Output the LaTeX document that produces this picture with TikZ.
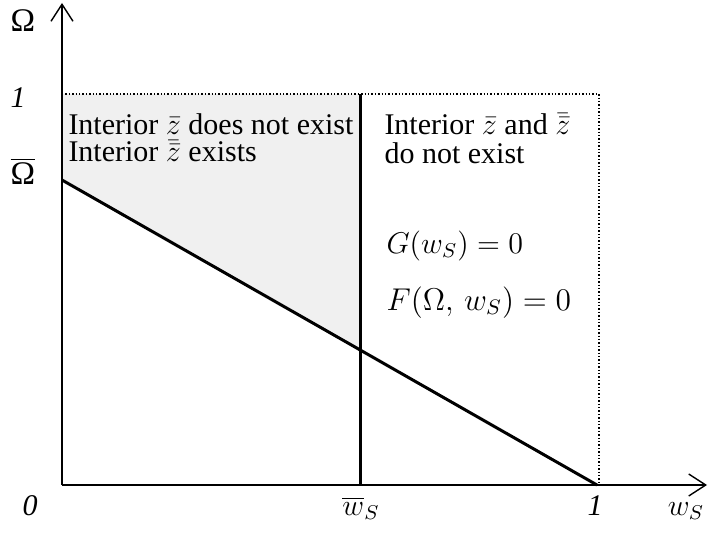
\documentclass[tikz,border=0pt]{standalone}
\usepackage{fontspec}
\setmainfont{Liberation Serif}
\usetikzlibrary{arrows.meta}
\begin{document}
\begin{tikzpicture}[x=1pt,y=-1pt,
  axis/.style={line width=1.4pt,-{Straight Barb[length=17pt,width=22pt,line width=1.4pt]}},
  heavy/.style={line width=3pt},
  frame/.style={line width=1.4pt,dotted},
  lbl/.style={inner sep=0pt,scale=2.5,font=\fontsize{12}{12.4}\selectfont},
  txt/.style={inner sep=0pt,anchor=base west,scale=2.5,font=\fontsize{12}{12.4}\selectfont}]
\useasboundingbox (0,0) rectangle (711,537);
\coordinate (O) at (62,485);
\coordinate (Ytip) at (62,3);
\coordinate (Xtip) at (707,485);
\coordinate (TL) at (62,94);
\coordinate (TR) at (599,94);
\coordinate (BR) at (599,485);
\coordinate (A) at (62,180);
\coordinate (B) at (597,485);
\coordinate (Vt) at (360,94);
\coordinate (Vb) at (360,485);
\coordinate (M) at (360,350);
\fill[black!6] (TL) -- (Vt) -- (M) -- (A) -- cycle;
\draw[frame] (TL) -- (TR) -- (BR);
\draw[axis] (O) -- (Ytip);
\draw[axis] (O) -- (Xtip);
\draw[heavy] (A) -- (B);
\draw[heavy] (Vt) -- (Vb);
% axis labels
\node[lbl,anchor=base,scale=1.1] (lOmega) at (23,32) {Ω};
\node[lbl,anchor=base] (lOne) at (18,108) {\itshape 1};
\node[lbl,anchor=base,scale=1.1] (lOmegaBar) at (23,185) {$\overline{\mbox{Ω}}$};
\node[lbl,anchor=base] (lZero) at (30,515) {\itshape 0};
\node[lbl,anchor=base] (lwbar) at (361,515) {$\overline{w}_S$};
\node[lbl,anchor=base] (lOneX) at (595,515) {\itshape 1};
\node[lbl,anchor=base] (lws) at (686,515) {$w_S$};
% region texts
\node[txt] (t1) at (68,135) {Interior $\bar{z}$ does not exist};
\node[txt] (t2) at (68,162) {Interior $\bar{\bar{z}}$ exists};
\node[txt] (t3) at (384,135) {Interior $\bar{z}$ and $\bar{\bar{z}}$};
\node[txt] (t4) at (384,164) {do not exist};
\node[txt] (g) at (386,253) {$G(w_S)=0$};
\node[txt,scale=1.05] (f) at (386,310) {$F(\Omega,\,w_S)=0$};
\end{tikzpicture}
\end{document}
